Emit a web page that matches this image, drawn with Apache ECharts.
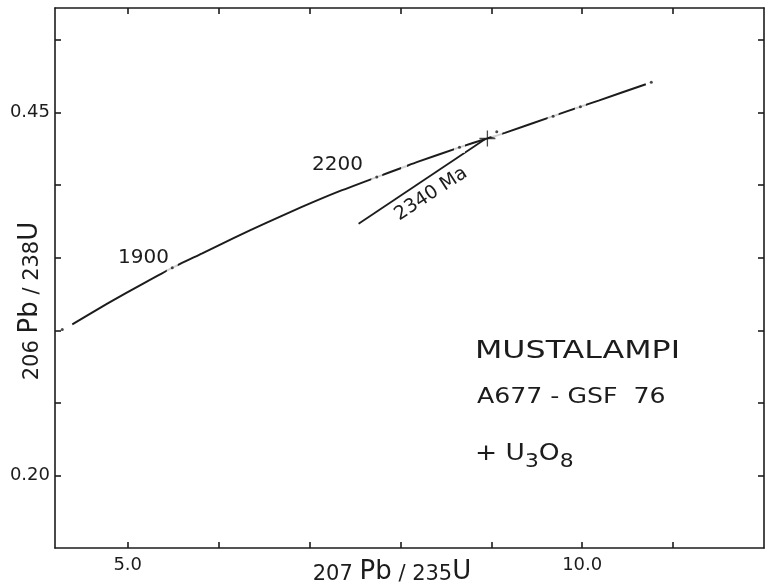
<!DOCTYPE html>
<html><head><meta charset="utf-8">
<script src="https://cdn.jsdelivr.net/npm/echarts@6/dist/echarts.min.js"></script>
<style>html,body{margin:0;padding:0;background:#fff}#c{width:769px;height:586px}</style>
</head><body><div id="c"></div>
<script>
// ---- data ----
const xRange = [4.2, 12.0];
const yRange = [0.15, 0.522];
const xTickValues = [5, 6, 7, 8, 9, 10, 11];
const xTickLabels = [5, 10];
const yTickValues = [0.20, 0.25, 0.30, 0.35, 0.40, 0.45, 0.50];
const yTickLabels = [0.20, 0.45];

// concordia curve (207Pb/235U, 206Pb/238U)
const concordiaX = [4.39, 4.78, 5.18, 5.49, 5.82, 6.17, 6.53, 6.91, 7.31, 7.74, 8.04, 8.18, 8.65, 8.96, 9.15, 9.68, 9.98, 10.18, 10.70];
const concordiaY = [0.304, 0.3185, 0.3325, 0.343, 0.353, 0.3637, 0.3742, 0.3848, 0.3953, 0.4055, 0.4125, 0.4158, 0.426, 0.4322, 0.436, 0.4475, 0.4540, 0.4582, 0.4695];
// age ticks on the concordia (gap + dot)
const ageMarkX = [5.49, 7.74, 8.65, 9.06, 9.68, 9.98];
const ageMarkY = [0.343, 0.4055, 0.426, 0.4368, 0.4475, 0.4540];
const plainGapX = [8.04];
const plainGapY = [0.4125];
const endDotX = [4.28, 10.76];
const endDotY = [0.3005, 0.4708];
// discordia chord
const discordiaX = [7.54, 8.93];
const discordiaY = [0.3733, 0.4315];
// U3O8 analysis
const sampleX = [8.957];
const sampleY = [0.4321];

const zip = (a, b) => a.map((v, i) => [v, b[i]]);
const ink = '#1c1c1c';
const font = 'DejaVu Sans';

const chart = echarts.init(document.getElementById('c'), null, {renderer: 'canvas'});
const axisLine = {lineStyle: {color: ink, width: 1.6}};
const tickStyle = {color: ink, width: 1.6};

chart.setOption({
  animation: false,
  backgroundColor: '#fff',
  grid: {left: 55, right: 5, top: 8, bottom: 38},
  xAxis: [{
    type: 'value', min: xRange[0], max: xRange[1], position: 'bottom',
    axisLine: axisLine,
    axisTick: {inside: true, length: 6, customValues: xTickValues, lineStyle: tickStyle},
    axisLabel: {customValues: xTickLabels, formatter: v => v.toFixed(1), margin: 8,
      fontSize: 18, fontFamily: font, color: ink},
    splitLine: {show: false}
  }, {
    type: 'value', min: xRange[0], max: xRange[1], position: 'top',
    axisLine: axisLine,
    axisTick: {inside: true, length: 6, customValues: xTickValues, lineStyle: tickStyle},
    axisLabel: {show: false}, splitLine: {show: false}
  }],
  yAxis: [{
    type: 'value', min: yRange[0], max: yRange[1], position: 'left',
    axisLine: axisLine,
    axisTick: {inside: true, length: 6, customValues: yTickValues, lineStyle: tickStyle},
    axisLabel: {customValues: yTickLabels, formatter: v => v.toFixed(2), margin: 5,
      fontSize: 18, fontFamily: font, color: ink},
    splitLine: {show: false}
  }, {
    type: 'value', min: yRange[0], max: yRange[1], position: 'right',
    axisLine: axisLine,
    axisTick: {inside: true, length: 6, customValues: yTickValues, lineStyle: tickStyle},
    axisLabel: {show: false}, splitLine: {show: false}
  }],
  series: [
    {type: 'line', data: zip(concordiaX, concordiaY), showSymbol: false, smooth: 0.2,
      lineStyle: {color: ink, width: 2}, z: 2},
    {type: 'line', data: zip(discordiaX, discordiaY), showSymbol: false,
      lineStyle: {color: ink, width: 1.8}, z: 2},
    {type: 'scatter', data: zip(ageMarkX, ageMarkY), symbol: 'rect', symbolSize: 11,
      itemStyle: {color: '#fff'}, z: 3},
    {type: 'scatter', data: zip(plainGapX, plainGapY), symbol: 'rect', symbolSize: 6,
      itemStyle: {color: '#fff'}, z: 3},
    {type: 'scatter', data: zip(ageMarkX, ageMarkY).concat(zip(endDotX, endDotY)),
      symbol: 'circle', symbolSize: 3, itemStyle: {color: ink}, z: 4},
    {type: 'scatter', data: zip(sampleX, sampleY),
      symbol: 'path://M0,9.2H20V10.8H0Z M9.2,0H10.8V20H9.2Z', symbolSize: 16,
      itemStyle: {color: ink}, z: 5}
  ],
  graphic: [
    {type: 'text', x: 30, y: 301, rotation: Math.PI / 2, z: 10,
      style: {text: '{n|206 }{b|Pb}{n| / 238}{b|U}', fill: ink, align: 'center', verticalAlign: 'middle',
        rich: {n: {fontSize: 21, lineHeight: 21, verticalAlign: 'bottom', fontFamily: font, fill: ink},
               b: {fontSize: 26, lineHeight: 26, verticalAlign: 'bottom', fontFamily: font, fill: ink}}}},
    {type: 'text', x: 392, y: 572, z: 10,
      style: {text: '{n|207 }{b|Pb}{n| / 235}{b|U}', fill: ink, align: 'center', verticalAlign: 'middle',
        rich: {n: {fontSize: 21, lineHeight: 21, verticalAlign: 'bottom', fontFamily: font, fill: ink},
               b: {fontSize: 26, lineHeight: 26, verticalAlign: 'bottom', fontFamily: font, fill: ink}}}},
    {type: 'text', x: 143.5, y: 257.5, z: 10,
      style: {text: '1900', fontSize: 20, fontFamily: font, fill: ink, align: 'center', verticalAlign: 'middle'}},
    {type: 'text', x: 337.5, y: 165, z: 10,
      style: {text: '2200', fontSize: 20, fontFamily: font, fill: ink, align: 'center', verticalAlign: 'middle'}},
    {type: 'text', x: 431, y: 194, rotation: 0.58, z: 10,
      style: {text: '2340 Ma', fontSize: 19, fontFamily: font, fill: ink, align: 'center', verticalAlign: 'middle'}},
    {type: 'text', x: 475, y: 352, scaleX: 1.32, z: 10,
      style: {text: 'MUSTALAMPI', fontSize: 24, fontFamily: font, fill: ink, align: 'left', verticalAlign: 'middle'}},
    {type: 'text', x: 477, y: 398, scaleX: 1.2, z: 10,
      style: {text: 'A677 - GSF  76', fontSize: 21, fontFamily: font, fill: ink, align: 'left', verticalAlign: 'middle'}},
    {type: 'text', x: 475, y: 457, scaleX: 1.15, z: 10,
      style: {text: '{n|+ U}{s|3}{n|O}{s|8}', fill: ink, align: 'left', verticalAlign: 'middle',
        rich: {n: {fontSize: 23, lineHeight: 23, verticalAlign: 'top', fontFamily: font, fill: ink},
               s: {fontSize: 19, lineHeight: 29, verticalAlign: 'bottom', fontFamily: font, fill: ink}}}}
  ]
});
</script>
</body></html>
